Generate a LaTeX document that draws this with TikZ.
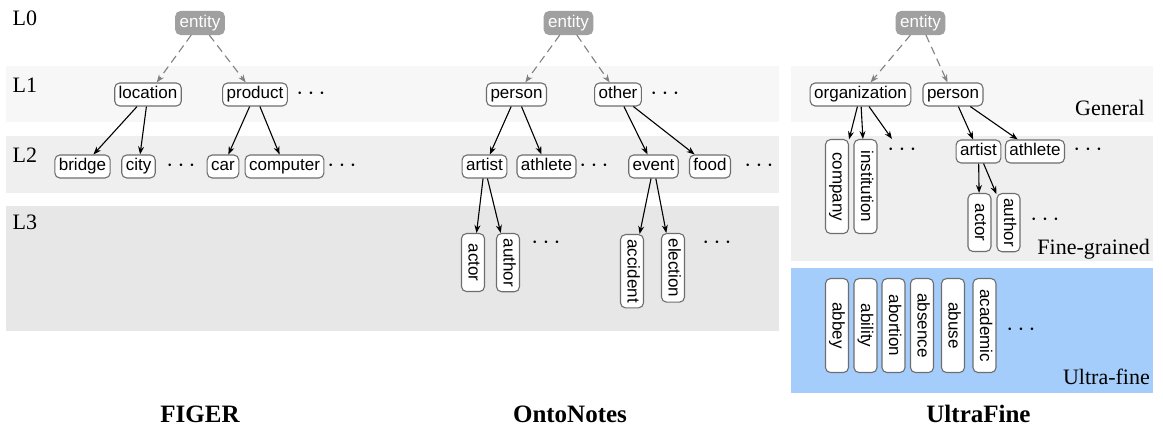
\documentclass[tikz,border=0pt]{standalone}
\usepackage{fontspec}
\setmainfont{Liberation Serif}
\setsansfont{Liberation Sans}
\usetikzlibrary{arrows.meta}

\definecolor{boxgray}{HTML}{6E6E6E}
\definecolor{rootgray}{HTML}{A0A0A0}
\definecolor{arrgray}{HTML}{808080}
\definecolor{bandA}{HTML}{F7F7F7}
\definecolor{bandB}{HTML}{EFEFEF}
\definecolor{bandC}{HTML}{E7E7E7}
\definecolor{bandU}{HTML}{A4CDFB}

\begin{document}
\begin{tikzpicture}[x=1pt, y=-1pt,
  tnode/.style={draw=boxgray, line width=1.1pt, rounded corners=5pt, fill=white,
    font=\sffamily\fontsize{17}{20}\selectfont, inner xsep=4pt, inner ysep=3.5pt,
    text height=12.4pt, text depth=3.6pt},
  root/.style={tnode, fill=rootgray, draw=rootgray, text=white},
  vnode/.style={tnode, rotate=-90, anchor=west, minimum width=58pt, inner xsep=5pt},
  uvnode/.style={vnode, minimum width=94pt},
  arr/.style={-{Stealth[length=8pt,width=6pt]}, line width=1.1pt, black},
  darr/.style={arr, draw=arrgray, dash pattern=on 8pt off 5pt},
  more/.style={font=\fontsize{30}{30}\selectfont, inner sep=0pt},
  lvl/.style={font=\fontsize{22}{24}\selectfont, anchor=base west, inner sep=0pt},
  tier/.style={font=\fontsize{22}{24}\selectfont, anchor=base east, inner sep=0pt},
  ttl/.style={font=\bfseries\fontsize{25}{28}\selectfont, anchor=base, inner sep=0pt}]

\useasboundingbox (0,0) rectangle (1163,430);

% level bands
\fill[bandA] (6,66) rectangle (779,122);
\fill[bandB] (6,136) rectangle (779,193);
\fill[bandC] (6,206) rectangle (779,331);
\fill[bandA] (791,66) rectangle (1153,122);
\fill[bandB] (791,136) rectangle (1153,261);
\fill[bandU] (791,268) rectangle (1153,393);

% level labels
\node[lvl] (l0) at (12.5,26) {L0};
\node[lvl] (l1) at (12.5,93) {L1};
\node[lvl] (l2) at (12.5,163) {L2};
\node[lvl] (l3) at (12.5,230) {L3};

\node[tier] (tg) at (1145,115.5) {General};
\node[tier] (tf) at (1150,254.5) {Fine-grained};
\node[tier] (tu) at (1150,385) {Ultra-fine};

% FIGER
\node[root]  (f0)   at (200,23)    {entity};
\node[tnode] (floc) at (148,94.5)  {location};
\node[tnode] (fpro) at (255,94.5)  {product};
\node[more]  (fd1)  at (311,94)    {$\cdots$};
\node[tnode] (fbri) at (82.5,166.5) {bridge};
\node[tnode] (fcit) at (138.5,166.5) {city};
\node[more]  (fd2)  at (181,166)   {$\cdots$};
\node[tnode] (fcar) at (223,166.5) {car};
\node[tnode] (fcom) at (284.5,166.5) {computer};
\node[more]  (fd3)  at (342,166)   {$\cdots$};

\draw[darr] (f0) -- (floc);
\draw[darr] (f0) -- (fpro);
\draw[arr] (floc) -- (fbri);
\draw[arr] (floc) -- (fcit);
\draw[arr] (fpro) -- (fcar);
\draw[arr] (fpro) -- (fcom);

% OntoNotes
\node[root]  (o0)   at (568.5,23)   {entity};
\node[tnode] (oper) at (516.5,94.5) {person};
\node[tnode] (ooth) at (618,94.5)   {other};
\node[more]  (od1)  at (665,94)     {$\cdots$};
\node[tnode] (oart) at (484.5,166.5) {artist};
\node[tnode] (oath) at (546.5,166.5) {athlete};
\node[more]  (od2)  at (594,166)    {$\cdots$};
\node[tnode] (oevt) at (653.5,166.5) {event};
\node[tnode] (ofoo) at (710,166.5)  {food};
\node[more]  (od3)  at (759,166)    {$\cdots$};
\node[vnode] (oact) at (473,233)    {actor};
\node[vnode] (oaut) at (508,233)    {author};
\node[more]  (od4)  at (546,243)    {$\cdots$};
\node[vnode] (oacc) at (632,234)    {accident};
\node[vnode] (oele) at (673,233)    {election};
\node[more]  (od5)  at (717,243)    {$\cdots$};

\draw[darr] (o0) -- (oper);
\draw[darr] (o0) -- (ooth);
\draw[arr] (oper) -- (oart);
\draw[arr] (oper) -- (oath);
\draw[arr] (ooth) -- (oevt);
\draw[arr] (ooth) -- (ofoo);
\draw[arr] (oart) -- (oact);
\draw[arr] (oart) -- (oaut);
\draw[arr] (oevt) -- (oacc);
\draw[arr] (oevt) -- (oele);

% UltraFine
\node[root]  (u0)   at (920.5,23)   {entity};
\node[tnode] (uorg) at (860.5,94.5) {organization};
\node[tnode] (uper) at (953,94.5)   {person};
\node[uvnode] (ucom) at (837,139)   {company};
\node[uvnode] (uins) at (865.5,139) {institution};
\coordinate (uorgmore) at (892,139);
\node[more]  (ud1)  at (902,150)    {$\cdots$};
\node[tnode] (uart) at (978.5,151.5) {artist};
\node[tnode] (uath) at (1035,151.5) {athlete};
\node[more]  (ud2)  at (1088,150)   {$\cdots$};
\node[vnode] (uact) at (979.5,193)  {actor};
\node[vnode] (uaut) at (1008.5,193) {author};
\node[more]  (ud3)  at (1045,220)   {$\cdots$};

\node[uvnode] (ua1) at (837,278)    {abbey};
\node[uvnode] (ua2) at (865.5,278)  {ability};
\node[uvnode] (ua3) at (893.5,278)  {abortion};
\node[uvnode] (ua4) at (922,278)    {absence};
\node[uvnode] (ua5) at (953,278)    {abuse};
\node[uvnode] (ua6) at (984.5,278)  {academic};
\node[more]  (ud4)  at (1021,330)   {$\cdots$};

\draw[darr] (u0) -- (uorg);
\draw[darr] (u0) -- (uper);
\draw[arr] (uorg) -- (ucom);
\draw[arr] (uorg) -- (uins);
\draw[arr] (uorg) -- (uorgmore);
\draw[arr] (uper) -- (uart);
\draw[arr] (uper) -- (uath);
\draw[arr] (uart) -- (uact);
\draw[arr] (uart) -- (uaut);

% dataset titles
\node[ttl] (t1) at (200,423)   {FIGER};
\node[ttl] (t2) at (570,423)   {OntoNotes};
\node[ttl] (t3) at (978.5,423) {UltraFine};
\end{tikzpicture}
\end{document}
